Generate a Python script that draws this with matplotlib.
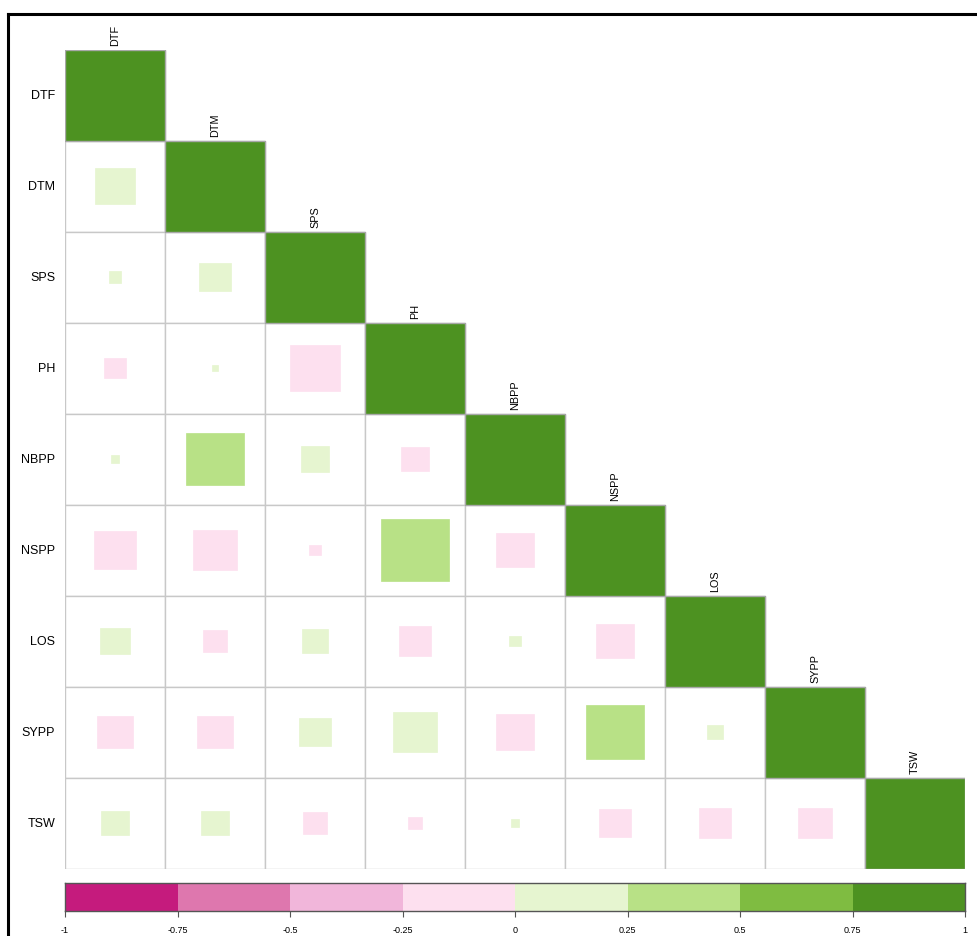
import matplotlib

matplotlib.use("Agg")
import matplotlib.pyplot as plt
import numpy as np
from matplotlib.lines import Line2D
from matplotlib.patches import Rectangle

plt.rcParams["font.family"] = ["Liberation Sans", "DejaVu Sans"]

traits = ["DTF", "DTM", "SPS", "PH", "NBPP", "NSPP", "LOS", "SYPP", "TSW"]

# lower triangle of the correlation matrix, one list per row (below the diagonal)
r_dtm = [0.16]
r_sps = [0.016, 0.10]
r_ph = [-0.047, 0.004, -0.245]
r_nbpp = [0.006, 0.336, 0.084, -0.073]
r_nspp = [-0.171, -0.196, -0.014, 0.453, -0.137]
r_los = [0.086, -0.054, 0.071, -0.102, 0.013, -0.142]
r_sypp = [-0.127, -0.123, 0.098, 0.188, -0.150, 0.348, 0.026]
r_tsw = [0.073, 0.075, -0.058, -0.018, 0.008, -0.098, -0.107, -0.111]

palette = ["#C51B7D", "#DE77AE", "#F1B6DA", "#FDE0EF",
           "#E6F5D0", "#B8E186", "#7FBC41", "#4D9221"]
bar_ticks = [-1, -0.75, -0.5, -0.25, 0, 0.25, 0.5, 0.75, 1]

n = len(traits)
corr = np.eye(n)
for i, row in enumerate([r_dtm, r_sps, r_ph, r_nbpp, r_nspp, r_los, r_sypp, r_tsw], start=1):
    corr[i, :i] = row


def color_for(r):
    k = int(np.floor((r + 1) / 0.25))
    return palette[min(max(k, 0), len(palette) - 1)]


W, H = 977, 937
fig = plt.figure(figsize=(W / 100, H / 100), dpi=100)

# outer frame (top and left edges)
fig.add_artist(Line2D([8 / W, 1], [1 - 15 / H, 1 - 15 / H], color="black", lw=2.2))
fig.add_artist(Line2D([8 / W, 8 / W], [0, 1 - 15 / H], color="black", lw=2.2))

ax = fig.add_axes([65 / W, (H - 869.5) / H, 900 / W, 819 / H])
ax.set_xlim(0.5, n + 0.5)
ax.set_ylim(n + 0.5, 0.5)
ax.axis("off")

for i in range(n):
    for j in range(i + 1):
        ax.add_patch(Rectangle((j + 0.5, i + 0.5), 1, 1, facecolor="white",
                               edgecolor="#c8c8c8", lw=1.0, zorder=1))
        r = corr[i, j]
        s = np.sqrt(abs(r))
        c = color_for(r)
        ax.add_patch(Rectangle((j + 1 - s / 2, i + 1 - s / 2), s, s, facecolor=c,
                               edgecolor=c, lw=0.5, zorder=2))
    # redraw the diagonal cell border on top
    ax.add_patch(Rectangle((i + 0.5, i + 0.5), 1, 1, facecolor="none",
                           edgecolor="#a8a8a8", lw=1.0, zorder=3))

for i, name in enumerate(traits):
    ax.annotate(name, xy=(0.5, i + 1), xytext=(-7, 0), textcoords="offset points",
                ha="right", va="center", fontsize=9, annotation_clip=False)
    ax.annotate(name, xy=(i + 1, i + 0.5), xytext=(0, 3.5), textcoords="offset points",
                ha="center", va="bottom", rotation=90, fontsize=7.8, annotation_clip=False)

# colour legend
cax = fig.add_axes([65 / W, (H - 912) / H, 900 / W, 28 / H])
cax.set_xlim(-1, 1)
cax.set_ylim(0, 1)
for k, c in enumerate(palette):
    cax.add_patch(Rectangle((-1 + 0.25 * k, 0), 0.25, 1, facecolor=c, edgecolor="none"))
for side in cax.spines.values():
    side.set_color("#555555")
    side.set_linewidth(1.0)
cax.set_yticks([])
cax.set_xticks(bar_ticks)
cax.set_xticklabels([f"{t:g}" for t in bar_ticks], fontsize=6.5)
cax.tick_params(axis="x", length=4, width=0.8, color="#555555", pad=6)

fig.savefig("out.png", dpi=100)
